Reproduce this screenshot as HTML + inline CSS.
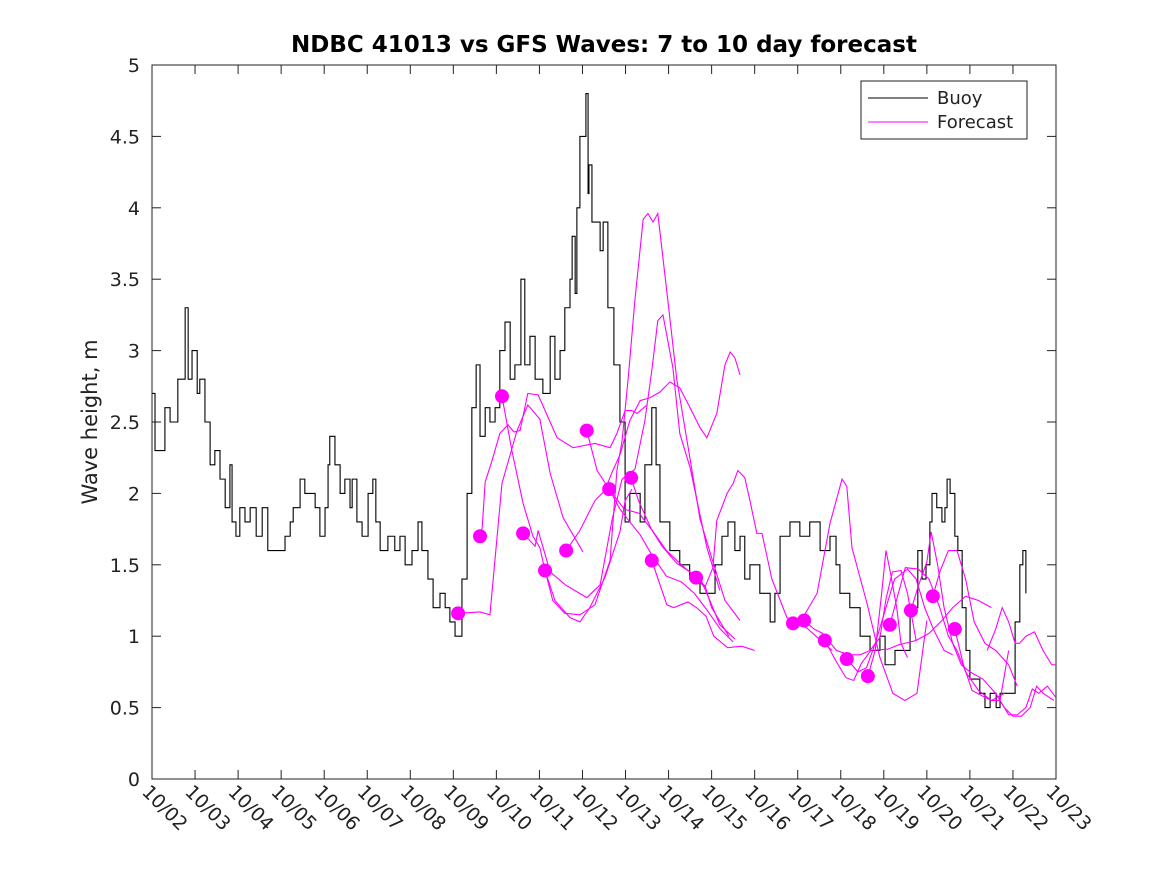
<!DOCTYPE html>
<html><head><meta charset="utf-8"><style>
html,body{margin:0;padding:0;background:#fff;}
svg{display:block;font-family:"DejaVu Sans","Liberation Sans",sans-serif;}
</style></head><body>
<svg id="chart" width="1167" height="875">
<rect x="0" y="0" width="1167" height="875" fill="#fff"/>
<text x="604" y="52" text-anchor="middle" font-size="23" font-weight="bold" fill="#000">NDBC 41013 vs GFS Waves: 7 to 10 day forecast</text>
<text transform="translate(97,422) rotate(-90)" text-anchor="middle" font-size="21" fill="#222">Wave height, m</text>
<g id="plot"></g>
<g>
<rect x="861" y="81" width="166" height="58" fill="#fff" stroke="#222" stroke-width="1"/>
<line x1="868" y1="98" x2="928" y2="98" stroke="#000" stroke-width="1"/>
<text x="937" y="104" font-size="18" fill="#222">Buoy</text>
<line x1="868" y1="122" x2="928" y2="122" stroke="#f0f" stroke-width="1"/>
<text x="937" y="128" font-size="18" fill="#222">Forecast</text>
</g>
</svg>
<script>
const xLabels=["10/02","10/03","10/04","10/05","10/06","10/07","10/08","10/09","10/10","10/11","10/12","10/13","10/14","10/15","10/16","10/17","10/18","10/19","10/20","10/21","10/22","10/23"];
const yTicks=[0,0.5,1,1.5,2,2.5,3,3.5,4,4.5,5];
const yTickLabels=["0","0.5","1","1.5","2","2.5","3","3.5","4","4.5","5"];
const buoyT=[0,.07,.19,.3,.42,.6,.77,.84,.93,1.05,1.11,1.23,1.35,1.46,1.58,1.7,1.81,1.86,1.95,2.04,2.16,2.28,2.42,2.56,2.69,2.97,3.09,3.21,3.28,3.44,3.55,3.67,3.79,3.9,4.02,4.09,4.13,4.25,4.37,4.48,4.6,4.65,4.76,4.88,5.02,5.13,5.2,5.3,5.48,5.64,5.76,5.88,6.04,6.18,6.27,6.41,6.53,6.69,6.81,6.92,7.04,7.2,7.32,7.43,7.53,7.62,7.74,7.85,7.97,8.08,8.2,8.32,8.43,8.57,8.66,8.78,8.9,9.08,9.25,9.36,9.48,9.59,9.71,9.76,9.83,9.87,9.94,10.08,10.13,10.15,10.22,10.41,10.48,10.59,10.73,10.87,10.99,11.1,11.34,11.45,11.61,11.71,11.8,12.03,12.26,12.49,12.73,12.96,13.08,13.24,13.38,13.54,13.66,13.77,13.89,14.12,14.36,14.47,14.59,14.82,15.05,15.28,15.52,15.75,15.89,15.98,16.21,16.45,16.68,16.91,17.03,17.26,17.49,17.61,17.79,17.89,17.98,18.07,18.12,18.23,18.35,18.42,18.47,18.54,18.65,18.72,18.82,18.91,19.0,19.23,19.35,19.47,19.61,19.7,19.93,20.05,20.16,20.23,20.3];
const buoyV=[2.7,2.3,2.3,2.6,2.5,2.8,3.3,2.8,3.0,2.7,2.8,2.5,2.2,2.3,2.1,1.9,2.2,1.8,1.7,1.9,1.8,1.9,1.7,1.9,1.6,1.6,1.7,1.8,1.9,2.1,2.0,2.0,1.9,1.7,1.9,2.2,2.4,2.2,2.0,2.1,1.9,2.1,1.8,1.7,2.0,2.1,1.8,1.6,1.7,1.6,1.7,1.5,1.6,1.8,1.6,1.4,1.2,1.3,1.2,1.1,1.0,1.4,2.0,2.6,2.9,2.4,2.6,2.5,2.6,3.0,3.2,2.8,2.9,3.5,2.9,3.1,2.8,2.7,3.1,2.8,3.0,3.3,3.5,3.8,3.4,4.0,4.5,4.8,4.1,4.3,3.9,3.7,3.9,3.3,2.9,2.5,1.8,2.0,1.8,2.2,2.6,2.2,1.8,1.6,1.5,1.4,1.3,1.3,1.5,1.7,1.8,1.6,1.7,1.4,1.5,1.3,1.1,1.3,1.7,1.8,1.7,1.8,1.6,1.7,1.5,1.3,1.2,1.0,0.9,1.0,0.8,0.9,0.9,1.2,1.6,1.4,1.5,1.8,2.0,1.9,1.8,1.9,2.1,2.0,1.7,1.6,1.2,0.9,0.7,0.6,0.5,0.6,0.5,0.6,0.6,1.1,1.5,1.6,1.3];
const fcT=[
[7.11,7.62,7.85,8.13,8.48,8.73,9.01,9.25,9.55,10.01],
[7.62,7.67,7.74,7.9,8.08,8.27,8.41,8.55,8.73,8.97,9.41,9.78,10.29,10.64,10.8,10.99,11.15,11.27,11.5],
[8.13,8.36,8.62,8.85,9.01,9.13,9.36,9.71,9.94,10.17,10.52,10.87,10.99,11.15],
[8.62,8.9,8.97,9.25,9.6,10.1,10.41,10.69,10.92,11.22,11.45,11.61,11.75,11.87,12.1,12.26,12.5,12.89,13.19],
[9.13,9.31,9.59,9.94,10.29,10.64,10.8,10.92,11.06,11.22,11.41,11.52,11.64,11.75,11.98,12.19,12.5,12.73,13.01,13.31,13.66],
[9.62,9.94,10.29,10.52,10.69,10.87,11.1,11.34,11.57,11.8,12.03,12.26,12.5,12.73,12.89,13.12,13.31,13.43,13.54,13.66],
[10.1,10.34,10.62,10.97,11.32,11.62,11.85,12.19,12.5,12.73,12.96,13.19,13.54],
[10.62,10.87,11.1,11.34,11.61,11.95,12.3,12.6,12.9,13.2,13.5],
[11.13,11.3,11.6,11.95,12.3,12.6,12.85,13.0,13.2,13.4],
[11.61,11.96,12.12,12.45,12.65,12.87,13.05,13.37,13.7,14.0],
[12.64,12.84,13.03,13.12,13.36,13.5,13.61,13.77,13.89,14.05,14.17,14.4,14.75,15.0,15.2,15.5,15.8],
[14.89,15.12,15.45,15.75,16.03,16.14,16.26,16.61,16.91,17.21,17.49,17.77,18.0],
[15.15,15.38,15.58,15.9,16.2,16.45,16.68,16.91,17.05,17.2,17.4,17.55,17.75],
[15.63,15.9,16.12,16.3,16.48,16.7,17.1,17.35,17.75,18.05,18.35,18.6,18.9,19.2,19.5],
[16.14,16.4,16.6,16.8,16.95,17.1,17.25,17.55,17.75,17.95,18.15,18.4,18.6],
[16.63,16.8,16.95,17.05,17.15,17.3,17.4,17.55],
[17.14,17.5,17.8,18.05,18.3,18.5,18.7,18.9,19.2,19.5,19.8],
[17.63,17.8,18.0,18.1,18.25,18.4,18.6,18.8,19.0,19.3,19.6,19.8,20.0,20.2,20.4,20.55,20.7,20.95],
[18.14,18.3,18.5,18.7,18.9,19.1,19.35,19.6,19.9,20.1],
[18.65,18.85,19.05,19.3,19.5,19.7,19.9],
[19.4,19.6,19.75,19.9,20.05,20.15,20.3,20.5,20.7,20.9,21.0],
[19.7,19.9,20.1,20.3,20.45,20.6,20.8,21.0]];
const fcV=[
[1.16,1.17,1.15,2.07,2.44,2.62,2.52,2.14,1.83,1.59],
[1.70,1.76,2.08,2.23,2.42,2.48,2.43,2.44,2.70,2.69,2.39,2.32,2.35,2.32,2.42,2.58,2.58,2.56,2.62],
[2.68,2.30,1.93,1.70,1.62,1.46,1.25,1.13,1.10,1.20,1.41,1.73,1.95,2.03],
[1.72,1.63,1.74,1.45,1.36,1.27,1.36,1.82,2.1,2.17,2.51,2.86,3.21,3.25,2.88,2.42,2.18,1.62,1.32],
[1.46,1.25,1.16,1.15,1.22,1.53,2.16,2.37,2.8,3.36,3.92,3.96,3.9,3.96,3.36,2.8,2.24,1.82,1.54,1.25,1.11],
[1.60,1.74,1.95,2.02,2.15,2.27,2.51,2.65,2.67,2.71,2.78,2.74,2.6,2.46,2.39,2.56,2.9,2.99,2.95,2.83],
[2.44,2.16,2.03,1.89,1.86,1.74,1.63,1.51,1.45,1.41,1.25,1.08,0.98],
[2.03,1.89,1.8,1.71,1.57,1.42,1.38,1.3,1.18,1.05,0.96],
[2.11,1.95,1.75,1.6,1.5,1.42,1.35,1.2,1.1,1.0],
[1.53,1.22,1.2,1.24,1.2,1.14,1.0,0.92,0.93,0.9],
[1.41,1.34,1.48,1.81,2.0,2.07,2.16,2.11,1.95,1.72,1.72,1.4,1.13,1.08,1.06,0.98,0.9],
[1.09,1.13,1.3,1.79,2.1,2.05,1.62,1.23,0.85,0.6,0.55,0.6,1.11],
[1.11,1.05,1.02,0.9,0.87,0.87,0.9,0.99,1.26,1.45,1.46,1.3,0.97],
[0.97,0.82,0.71,0.69,0.81,0.9,0.91,0.94,0.97,1.02,1.11,1.2,1.28,1.25,1.2],
[0.84,0.75,0.78,0.95,1.1,1.25,1.4,1.47,1.4,1.2,1.05,0.9,0.87],
[0.72,0.9,1.3,1.6,1.45,1.2,0.95,0.85],
[1.08,1.48,1.47,1.4,1.2,1.0,0.9,0.75,0.62,0.55,0.6],
[1.18,1.35,1.52,1.73,1.5,1.2,0.95,0.8,0.75,0.7,0.6,0.5,0.44,0.44,0.5,0.65,0.6,0.55],
[1.28,1.45,1.6,1.6,1.4,1.1,0.95,0.9,0.8,0.65],
[1.05,0.8,0.62,0.58,0.55,0.55,0.9],
[0.9,1.05,1.2,1.1,0.95,0.95,1.0,1.03,0.9,0.8,0.8],
[0.55,0.45,0.45,0.5,0.63,0.6,0.65,0.57]];
const dotT=[7.11,7.62,8.13,8.62,9.13,9.62,10.1,10.62,11.13,11.61,12.64,14.89,15.15,15.63,16.14,16.63,17.14,17.63,18.14,18.65];
const dotV=[1.16,1.70,2.68,1.72,1.46,1.60,2.44,2.03,2.11,1.53,1.41,1.09,1.11,0.97,0.84,0.72,1.08,1.18,1.28,1.05];

const L=152,R=1056,T=65,B=779;
const xs=t=>L+(R-L)*t/21;
const ys=v=>B-(B-T)*v/5;
const NS="http://www.w3.org/2000/svg";
const plot=document.getElementById('plot');
function mk(tag,attrs,parent){const e=document.createElementNS(NS,tag);for(const k in attrs)e.setAttribute(k,attrs[k]);(parent||plot).appendChild(e);return e;}

const clip=mk('clipPath',{id:'pc'});mk('rect',{x:L,y:T,width:R-L,height:B-T},clip);
const frame=mk('rect',{x:L,y:T,width:R-L,height:B-T,fill:'none',stroke:'#222','stroke-width':1});



yTicks.forEach((v,i)=>{
  const y=ys(v);
  mk('line',{x1:L,y1:y,x2:L+9,y2:y,stroke:'#222'});
  mk('line',{x1:R,y1:y,x2:R-9,y2:y,stroke:'#222'});
  const tx=mk('text',{x:L-12,y:y+7,'text-anchor':'end','font-size':19,fill:'#222'});
  tx.textContent=yTickLabels[i];
  
  
});
xLabels.forEach((lab,i)=>{
  const x=xs(i);
  mk('line',{x1:x,y1:B,x2:x,y2:B-9,stroke:'#222'});
  mk('line',{x1:x,y1:T,x2:x,y2:T+9,stroke:'#222'});
  const tx=mk('text',{transform:`translate(${x-11},${B+14}) rotate(45)`,'font-size':19,fill:'#222'});
  tx.textContent=lab;
  
  
});

const g=mk('g',{'clip-path':'url(#pc)'});
let d='M'+xs(buoyT[0])+','+ys(buoyV[0]);
for(let i=1;i<buoyT.length;i++){d+=' H'+xs(buoyT[i])+' V'+ys(buoyV[i]);}
const bp=mk('path',{d:d,fill:'none',stroke:'#000','stroke-width':1.1},g);


fcT.forEach((ts,k)=>{
  const p=mk('polyline',{points:ts.map((t,i)=>xs(t)+','+ys(fcV[k][i])).join(' '),fill:'none',stroke:'#f0f','stroke-width':1.1},g);
  
  
});
dotT.forEach((t,i)=>{
  const c=mk('circle',{cx:xs(t),cy:ys(dotV[i]),r:7,fill:'#f0f'},g);
  
  
});
</script>
</body></html>
